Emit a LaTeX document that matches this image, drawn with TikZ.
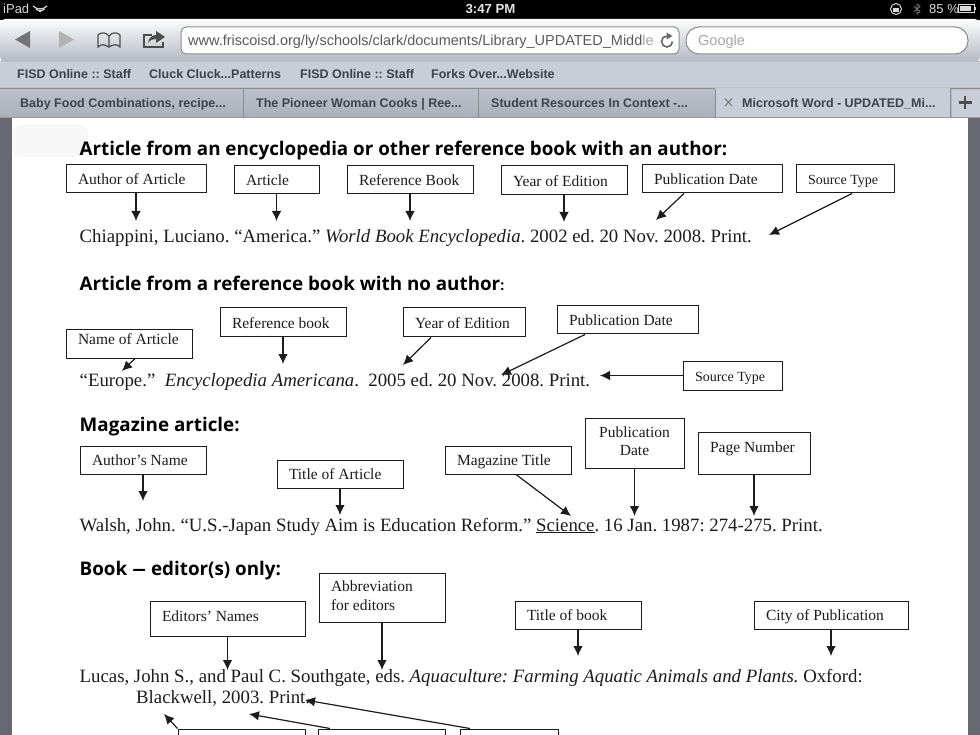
\documentclass[tikz,border=0pt]{standalone}
\usepackage{fontspec}
\usepackage{graphicx}
\setmainfont{Liberation Serif}
\newfontfamily\uifont{Liberation Sans}
\newfontfamily\headfont{Open Sans}
\usetikzlibrary{arrows.meta,shadings}
\definecolor{uitext}{HTML}{3D424D}
\definecolor{barc}{HTML}{C9CDD7}
\definecolor{tabc}{HTML}{B4B8C3}
\definecolor{tabtop}{HTML}{BCC0CA}
\definecolor{tabbot}{HTML}{ABAFBA}
\definecolor{ink}{HTML}{1C1C1C}
\definecolor{sidec}{HTML}{666972}
\tikzset{
  refbox/.style={draw=ink,line width=1pt,fill=white,inner sep=0pt,font=\fontsize{15.5}{18.5}\selectfont,text=ink},
  cite/.style={anchor=base west,inner sep=0pt,font=\fontsize{18.8}{21}\selectfont,text=ink},
  headline/.style={anchor=base west,inner sep=0pt,font=\headfont\bfseries\fontsize{18.8}{21}\selectfont,text=black},
  arr/.style={draw=ink,line width=1.2pt,-{Latex[length=10pt,width=9.5pt]}},
  bm/.style={anchor=base west,inner sep=0pt,font=\uifont\bfseries\fontsize{12.5}{14}\selectfont,text=uitext},
  field/.style={draw=#1,fill=white,line width=1pt},
  icon/.style={fill=#1,draw=none},
  stat/.style={inner sep=0pt,font=\uifont\fontsize{13}{14}\selectfont,text=#1},
}
\newcommand{\bx}[6]{\node[refbox,minimum width={(#4-#2)*1pt},minimum height={(#5-#3)*1pt}] (#1) at ({(#2+#4)/2},{(#3+#5)/2}) {\parbox[c]{\dimexpr #4pt-#2pt-24pt\relax}{\raggedright\rule{0pt}{17pt}#6\strut}};}
\newcommand{\bxm}[6]{\node[refbox,minimum width={(#4-#2)*1pt},minimum height={(#5-#3)*1pt}] (#1) at ({(#2+#4)/2},{(#3+#5)/2}) {\parbox[c]{\dimexpr #4pt-#2pt-24pt\relax}{\raggedright\strut #6\strut}};}
\newcommand{\up}[2]{\raisebox{#1}[0pt][0pt]{#2}}
\newcommand{\sm}{\fontsize{14}{18}\selectfont}
\begin{document}
\begin{tikzpicture}[x=1pt,y=-1pt]
\frenchspacing
\useasboundingbox (0,0) rectangle (980,735);
% page
\fill[white] (0,0) rectangle (980,735);
\fill[sidec] (0,118) rectangle (12,735);
\fill[sidec] (968,118) rectangle (980,735);
\fill[black!3,rounded corners=9pt] (12,125) rectangle (88,157);
% status bar
\fill[black] (0,0) rectangle (980,20);
\node[stat=white!85!black,anchor=base west] (carrier) at (3,13.5) {iPad};
\node[stat=white!90!black,anchor=base,font=\uifont\bfseries\fontsize{13.2}{14}\selectfont] (clock) at (490.5,13.5) {3:47 PM};
\node[stat=white!85!black,anchor=base west] (pct) at (929,13.5) {85 \%};
\draw[white!85!black,line width=1.2pt] (33,6) arc[start angle=135,end angle=45,radius=10];
\draw[white!85!black,line width=1.2pt] (36,9) arc[start angle=135,end angle=45,radius=6];
\fill[white!85!black] (40.2,12.5) -- (37.8,10) -- (42.6,10) -- cycle;
\draw[white!85!black,line width=1pt] (896,9) circle[radius=5.5];
\fill[white!85!black] (893,8) rectangle (899,12);
\draw[white!45!black,line width=.9pt] (917,4) -- (917,14) -- (920,11.5) -- (914,6.5) (914,11.5) -- (920,6.5) -- (917,4);
\draw[white!85!black,line width=1pt] (958,5) rectangle (974,13);
\fill[white!85!black] (959.5,6.5) rectangle (971,11.5);
\fill[white!85!black] (975,7.5) rectangle (976.2,10.5);
% toolbar
\shade[top color=white!95!barc,bottom color=tabc,rounded corners=5pt] (0,62) -- (0,19) -- (980,19) -- (980,62) -- cycle;
\fill[barc] (0,62) rectangle (980,88);
\draw[white!75!black,line width=.8pt] (0,61.5) -- (980,61.5);
\shade[top color=tabtop,bottom color=tabbot] (0,88) rectangle (980,118);
\draw[white!55!black,line width=.8pt] (0,88) -- (980,88);
\fill[barc] (715,88.5) rectangle (950,118);
\fill[barc] (952,90) rectangle (980,117);
\draw[white!60!black,line width=.8pt] (0,117.5) -- (980,117.5);
\foreach \tx in {243,478,715,950}{\draw[white!55!black,line width=.8pt] (\tx,89) -- (\tx,118);}
% toolbar icons
\fill[icon=white!45!black] (15,39.5) -- (30,31) -- (30,48) -- cycle;
\fill[icon=white!70!black] (74,39.5) -- (59,31) -- (59,48) -- cycle;
\draw[white!30!black,line width=1.2pt] (109,47) .. controls (104,44) and (101,44) .. (98,47) -- (98,35) .. controls (101,32) and (106,32) .. (109,36) .. controls (112,32) and (117,32) .. (120,35) -- (120,47) .. controls (117,44) and (114,44) .. (109,47) -- (109,36);
\draw[white!30!black,line width=1.2pt] (152,35) -- (144,35) -- (144,47) -- (163,47) -- (163,42);
\fill[white!30!black] (148,43) .. controls (149,37) and (153,35) .. (156,35) -- (156,31) -- (165,37) -- (156,43) -- (156,39) .. controls (153,39) and (150,40) .. (148,43) -- cycle;
\draw[field=white!55!black,rounded corners=5pt] (181,27) rectangle (679,54);
\draw[field=white!55!black,rounded corners=13pt] (686,27) rectangle (968,54);
\node[anchor=base west,inner sep=0pt,font=\uifont\fontsize{14.5}{18}\selectfont,text=white!35!black] (url) at (188,46) {www.friscoisd.org/ly/schools/clark/documents/Library\_UPDATED\_Midd\textcolor{black!35}{le}};
\draw[white!40!black,line width=1.6pt] (672.5,41.5) arc[start angle=0,end angle=265,radius=5.5];
\fill[white!40!black] (666.5,32.5) -- (672.5,36) -- (666.5,39.5) -- cycle;
\node[anchor=base west,inner sep=0pt,font=\uifont\fontsize{14.5}{18}\selectfont,text=black!35] (google) at (698,46) {Google};
% bookmarks
\node[bm] (bm1) at (17,78.5) {FISD Online :: Staff};
\node[bm] (bm2) at (149,78.5) {Cluck Cluck...Patterns};
\node[bm] (bm3) at (300,78.5) {FISD Online :: Staff};
\node[bm] (bm4) at (431,78.5) {Forks Over...Website};
% tabs
\node[bm] (tab1) at (20,107.5) {Baby Food Combinations, recipe...};
\node[bm] (tab2) at (256,107.5) {The Pioneer Woman Cooks | Ree...};
\node[bm] (tab3) at (491,107.5) {Student Resources In Context -...};
\node[bm] (tab4) at (742,107.5) {Microsoft Word - UPDATED\_Mi...};
\draw[white!50!black,line width=1.2pt] (725,98.5) -- (732,106) (732,98.5) -- (725,106);
\draw[white!30!black,line width=2.6pt] (965,96) -- (965,109) (958.5,102.5) -- (971.5,102.5);
% --- section 1
\node[headline] (h1) at (79.5,156) {Article from an encyclopedia or other reference book with an author:};
\bx{a1}{66}{165}{206}{193}{Author of Article}
\bx{a2}{234}{166}{319}{194}{Article}
\bx{a3}{347}{166}{473}{194}{Reference Book}
\bx{a4}{501}{166}{627}{195}{Year of Edition}
\bx{a5}{642}{165}{782}{193}{Publication Date}
\bx{a6}{796}{165}{894}{193}{\sm Source Type}
\node[cite] (l1) at (79.5,243) {Chiappini, Luciano. “America.” \textit{World Book Encyclopedia}. 2002 ed. 20 Nov. 2008. Print.};
\coordinate (ta1) at (136,221);
\coordinate (ta2) at (276.5,221);
\coordinate (ta3) at (410,221);
\coordinate (ta4) at (564,222);
\coordinate (ta5) at (656,220);
\coordinate (ta6) at (769,235);
\draw[arr] (a1.south) -- (ta1);
\draw[arr] (a2.south) -- (ta2);
\draw[arr] (a3.south) -- (ta3);
\draw[arr] (a4.south) -- (ta4);
\draw[arr] ([xshift=-28pt]a5.south) -- (ta5);
\draw[arr] ([xshift=7pt]a6.south) -- (ta6);
% --- section 2
\node[headline] (h2) at (79.5,291) {Article from a reference book with no author{\fontsize{14}{16}\selectfont:}};
\bx{b1}{66}{330}{192}{358}{\up{5pt}{Name of Article}}
\bx{b2}{220}{308}{346}{337}{Reference book}
\bx{b3}{403}{308}{525}{337}{Year of Edition}
\bx{b4}{557}{306}{698}{334}{Publication Date}
\bx{b5}{683}{361}{782}{390}{\sm Source Type}
\node[cite] (l2) at (79.5,386) {“Europe.”\ \ \textit{Encyclopedia Americana}.\ \ 2005 ed. 20 Nov. 2008. Print.};
\coordinate (tb1) at (122,371);
\coordinate (tb2) at (283,364);
\coordinate (tb3) at (403,365);
\coordinate (tb4) at (501,375);
\coordinate (tb5) at (600,375.5);
\draw[arr] ([xshift=6pt]b1.south) -- (tb1);
\draw[arr] (b2.south) -- (tb2);
\draw[arr] ([xshift=-33pt]b3.south) -- (tb3);
\draw[arr] ([xshift=-42.5pt]b4.south) -- (tb4);
\draw[arr] (b5.west) -- (tb5);
% --- section 3
\node[headline] (h3) at (79.5,431) {Magazine article:};
\bx{c1}{80}{446}{206}{474}{Author’s Name}
\bx{c2}{277}{460}{403}{488}{Title of Article}
\bx{c3}{445}{446}{571}{474}{Magazine Title}
\bxm{c4}{585}{418}{684}{468}{\centering Publication\\Date}
\bx{c5}{698}{432}{810}{474}{\up{6pt}{Page Number}}
\node[cite] (l3) at (79.5,531) {Walsh, John. “U.S.-Japan Study Aim is Education Reform.” \underline{Science}. 16 Jan. 1987: 274-275. Print.};
\coordinate (tc1) at (143,501);
\coordinate (tc2) at (340,515);
\coordinate (tc3) at (571,516);
\coordinate (tc4) at (634.5,516);
\coordinate (tc5) at (754,516);
\draw[arr] (c1.south) -- (tc1);
\draw[arr] (c2.south) -- (tc2);
\draw[arr] ([xshift=8pt]c3.south) -- (tc3);
\draw[arr] (c4.south) -- (tc4);
\draw[arr] (c5.south) -- (tc5);
% --- section 4
\node[headline] (h4) at (79.5,575) {Book \scalebox{1.5}[1]{–} editor(s) only:};
\bx{d1}{150}{601}{305}{636}{\up{2.5pt}{Editors’ Names}}
\bxm{d2}{319}{573}{445}{622}{Abbreviation\\for editors}
\bx{d3}{515}{601}{641}{629}{Title of book}
\bx{d4}{754}{601}{908}{629}{City of Publication}
\node[cite] (l4) at (79.5,682) {Lucas, John S., and Paul C. Southgate, eds. \textit{Aquaculture: Farming Aquatic Animals and Plants.} Oxford:};
\node[cite] (l5) at (136,703) {Blackwell, 2003. Print.};
\coordinate (td1) at (227.5,670);
\coordinate (td2) at (382,670);
\coordinate (td3) at (578,656);
\coordinate (td4) at (831,656);
\draw[arr] (d1.south) -- (td1);
\draw[arr] (d2.south) -- (td2);
\draw[arr] (d3.south) -- (td3);
\draw[arr] (d4.south) -- (td4);
\begin{scope}
\clip (0,700) rectangle (980,735);
\node[refbox,minimum width=127pt,minimum height=30pt] (e1) at (241.5,744) {};
\node[refbox,minimum width=127pt,minimum height=30pt] (e2) at (382,744) {};
\node[refbox,minimum width=98pt,minimum height=30pt] (e3) at (509,744) {};
\end{scope}
\coordinate (te1) at (164,714);
\coordinate (te2) at (249,714);
\coordinate (te3) at (305,700);
\draw[arr] (e1.north west) -- (te1);
\draw[arr] ([xshift=-52pt]e2.north) -- (te2);
\draw[arr] ([xshift=-39pt]e3.north) -- (te3);
\end{tikzpicture}
\end{document}
